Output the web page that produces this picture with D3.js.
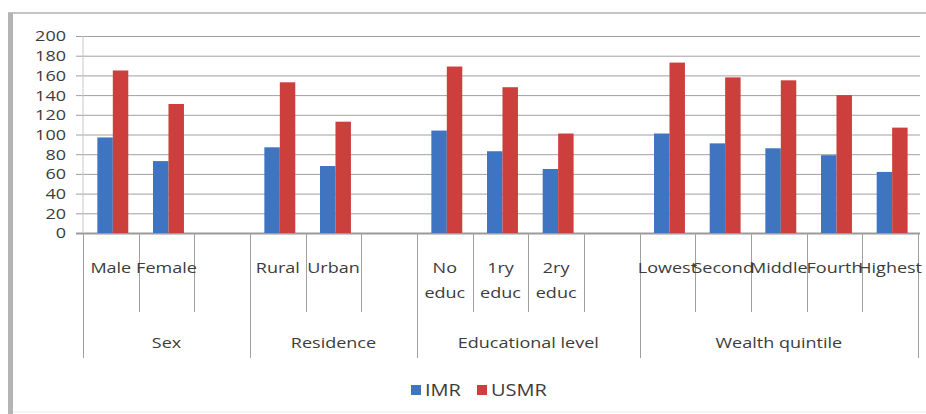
<!DOCTYPE html>
<html>
<head>
<meta charset="utf-8">
<script src="https://cdn.jsdelivr.net/npm/d3@7"></script>
<style>
  body { margin: 0; background: #fff; }
  text { font-family: "Open Sans", sans-serif; fill: #3c3c3c; }
</style>
</head>
<body>
<script>
// data
const groups = ["Sex", "Residence", "Educational level", "Wealth quintile"];
const groupSizes = [3, 3, 4, 5];
const categories = ["Male", "Female", "", "Rural", "Urban", "", "No educ", "1ry educ", "2ry educ", "",
    "Lowest", "Second", "Middle", "Fourth", "Highest"];
const imr = [97, 73, null, 87, 68, null, 104, 83, 65, null, 101, 91, 86, 79, 62];
const usmr = [165, 131, null, 153, 113, null, 169, 148, 101, null, 173, 158, 155, 140, 107];
const seriesNames = ["IMR", "USMR"];
const yTicks = [0, 20, 40, 60, 80, 100, 120, 140, 160, 180, 200];

const colors = { IMR: "#3f74c0", USMR: "#cc3f3c" };

const svg = d3.select("body")
    .append("svg")
    .attr("width", 926)
    .attr("height", 414);

// stretch text a bit wider, like the original picture
function stretch(sel, k) {
    sel.each(function () {
        const w = this.getComputedTextLength();
        if (w > 0) d3.select(this).attr("textLength", w * k).attr("lengthAdjust", "spacingAndGlyphs");
    });
}

// chart frame
svg.append("line").attr("x1", 8).attr("x2", 926).attr("y1", 13).attr("y2", 13)
    .attr("stroke", "#c4c4c4").attr("stroke-width", 2);
svg.append("rect").attr("x", 8).attr("y", 13).attr("width", 5).attr("height", 401)
    .attr("fill", "#b4b4b4");
svg.append("line").attr("x1", 13).attr("x2", 926).attr("y1", 412).attr("y2", 412)
    .attr("stroke", "#ececec");

const plotLeft = 83, plotRight = 918, plotTop = 36, plotBottom = 233;

const x = d3.scaleBand()
    .domain(d3.range(categories.length))
    .range([plotLeft, plotRight])
    .padding(0);

const xInner = d3.scaleBand()
    .domain(seriesNames)
    .range([0, x.bandwidth()])
    .paddingInner(0)
    .paddingOuter(0.8)
    .align(0.58);

const y = d3.scaleLinear()
    .domain([0, 200])
    .range([plotBottom, plotTop]);

// gridlines + y axis
const grid_g = svg.append("g");
grid_g.selectAll("line")
    .data(yTicks)
    .enter().append("line")
    .attr("x1", plotLeft - 7)
    .attr("x2", plotRight + 2)
    .attr("y1", d => y(d) + 0.5)
    .attr("y2", d => y(d) + 0.5)
    .attr("stroke", d => d === 0 ? "#9a9a9a" : "#a0a0a0")
    .attr("stroke-width", d => d === 0 ? 2 : 1);

svg.append("line")
    .attr("x1", plotLeft).attr("x2", plotLeft)
    .attr("y1", y(200)).attr("y2", y(0))
    .attr("stroke", "#c8c8c8");

svg.append("g").selectAll("text")
    .data(yTicks)
    .enter().append("text")
    .attr("x", 66)
    .attr("y", d => y(d))
    .attr("dy", "0.36em")
    .attr("text-anchor", "end")
    .style("font-size", "15px")
    .text(d => d)
    .call(stretch, 1.2);

// bars
const rows = categories.map((c, i) => ({ i: i, IMR: imr[i], USMR: usmr[i] }));
const bars_g = svg.append("g");
seriesNames.forEach(s => {
    bars_g.selectAll(".bar_" + s)
        .data(rows.filter(d => d[s] != null))
        .enter().append("rect")
        .attr("class", "bar_" + s)
        .attr("x", d => x(d.i) + xInner(s))
        .attr("width", xInner.bandwidth())
        .attr("y", d => y(d[s]))
        .attr("height", d => y(0) - y(d[s]))
        .attr("fill", colors[s]);
});

// multi level category axis
const axis_g = svg.append("g");
let start = 0;
const groupStarts = groupSizes.map(n => { const s = start; start += n; return s; });

// short ticks between categories inside a group
groupStarts.forEach((s, gi) => {
    for (let k = 1; k < groupSizes[gi]; k++) {
        const xx = Math.round(x(s + k)) + 0.5;
        axis_g.append("line")
            .attr("x1", xx).attr("x2", xx)
            .attr("y1", plotBottom).attr("y2", 312)
            .attr("stroke", "#a0a0a0");
    }
});
// long ticks at group boundaries
groupStarts.concat([categories.length]).forEach(s => {
    const xx = Math.round(s < categories.length ? x(s) : plotRight) + 0.5;
    axis_g.append("line")
        .attr("x1", xx).attr("x2", xx)
        .attr("y1", plotBottom).attr("y2", 358)
        .attr("stroke", "#a0a0a0");
});

// category labels, wrapped on spaces
categories.forEach((c, i) => {
    if (!c) return;
    const t = axis_g.append("text")
        .attr("x", x(i) + x.bandwidth() / 2)
        .attr("y", 273)
        .attr("text-anchor", "middle")
        .style("font-size", "15px");
    c.split(" ").forEach((w, li) => {
        t.append("tspan")
            .attr("x", x(i) + x.bandwidth() / 2)
            .attr("y", 273 + li * 25)
            .text(w)
            .call(stretch, 1.2);
    });
});

// group labels
groups.forEach((g, gi) => {
    const s = groupStarts[gi];
    const x0 = x(s), x1 = x(s + groupSizes[gi] - 1) + x.bandwidth();
    axis_g.append("text")
        .attr("x", (x0 + x1) / 2)
        .attr("y", 348)
        .attr("text-anchor", "middle")
        .style("font-size", "15px")
        .text(g)
        .call(stretch, 1.2);
});

// legend
const legend = svg.append("g");
const legendX = [411, 477];
seriesNames.forEach((s, i) => {
    legend.append("rect")
        .attr("x", legendX[i]).attr("y", 385)
        .attr("width", 10).attr("height", 10)
        .attr("fill", colors[s]);
    legend.append("text")
        .attr("x", legendX[i] + 14)
        .attr("y", 396)
        .style("font-size", "16px")
        .text(s)
        .call(stretch, 1.25);
});
</script>
</body>
</html>
